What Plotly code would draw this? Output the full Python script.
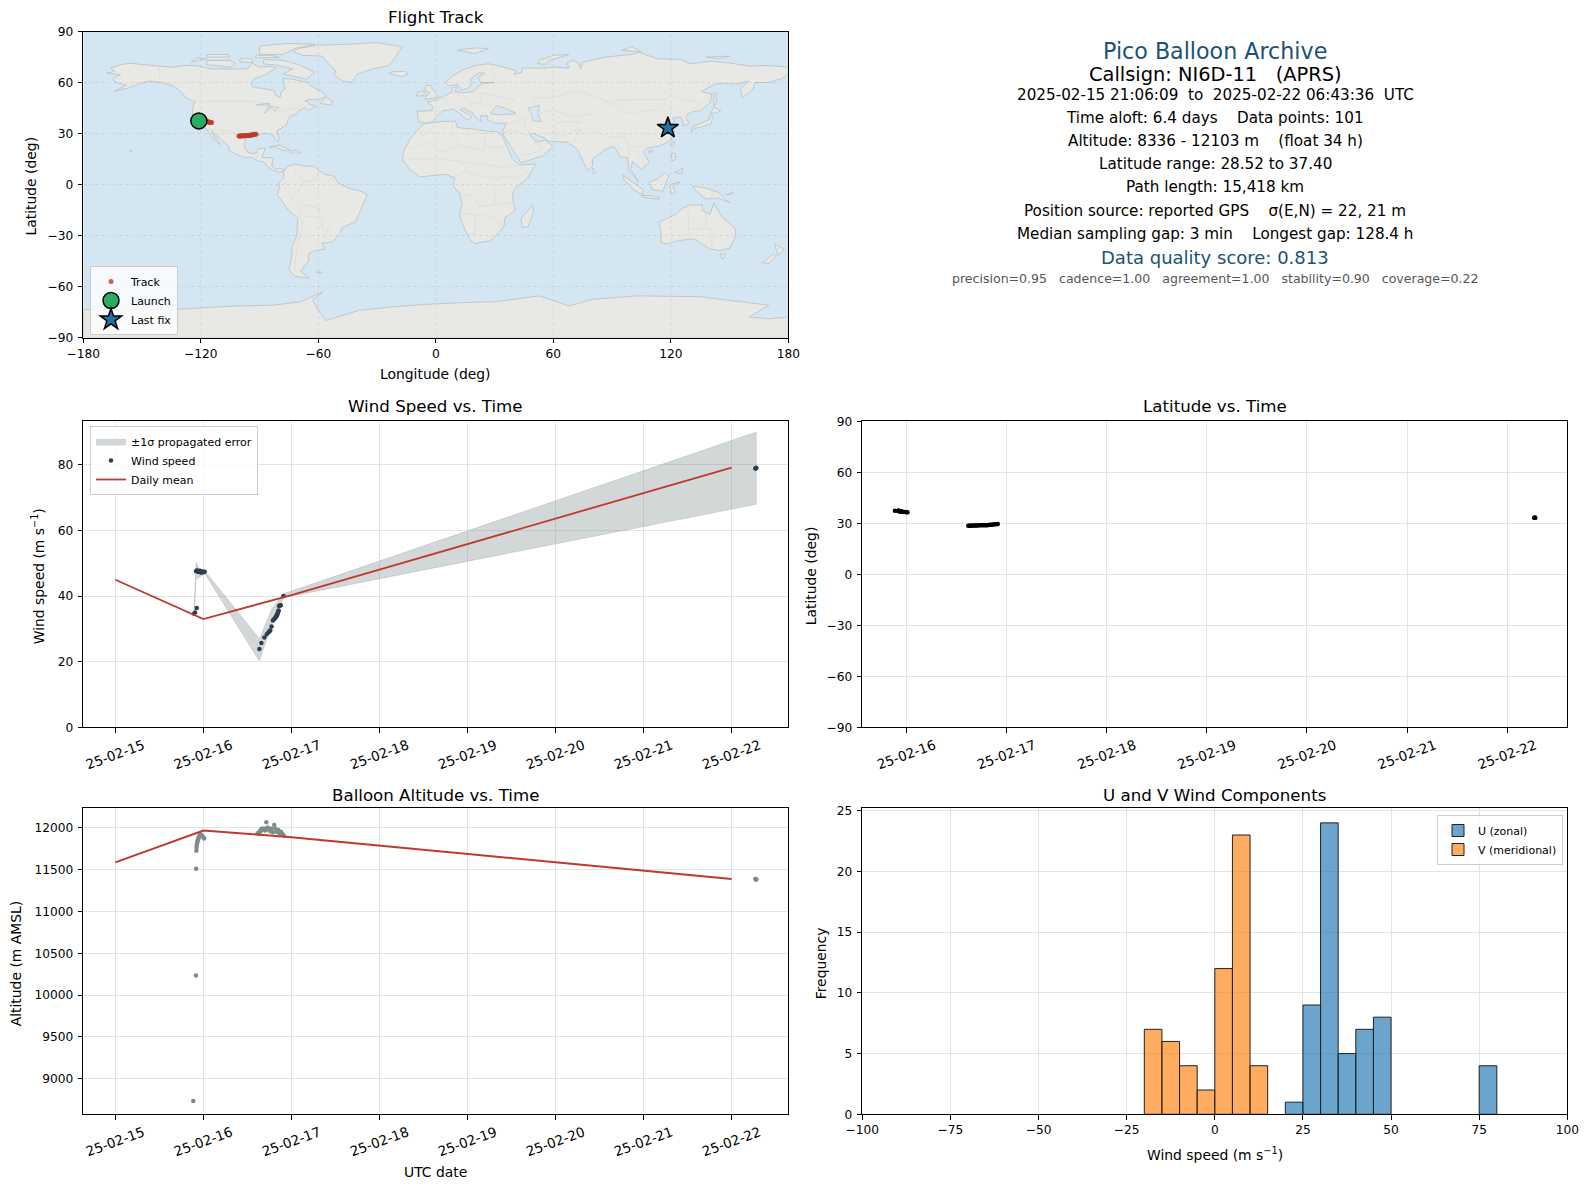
import pandas as pd
import plotly.graph_objects as go

# ---- values ----
start_day = pd.Timestamp("2025-02-15")

track_t = [.885, .915, .918, .92, .922, .925, .928, .932, .936, .94, .945, .95, .96, .975, .99, 1.0, 1.01,
           1.617, 1.63, 1.64, 1.65, 1.66, 1.675, 1.69, 1.70, 1.715, 1.73, 1.745, 1.76, 1.775, 1.79, 1.805, 1.82,
           1.835, 1.85, 1.865, 1.88, 1.895, 1.912, 7.27, 7.274, 7.278, 7.28]
track_alt = [8736, 10235, 11508, 11724, 11760, 11788, 11810, 11828, 11845, 11860, 11875, 11892, 11924, 11915, 11900,
             11880, 11870,
             11932, 11925, 11960, 11955, 11985, 11975, 11990, 11965, 12062, 12000, 11975, 11955, 11990, 11945, 12030,
             11985, 11950, 11970, 11930, 11950, 11925, 11905,
             11385, 11385, 11380, 11380]
track_lat = [37.4, 37.35, 37.3, 37.3, 37.25, 37.2, 37.2, 37.15, 37.1, 37.05, 37.0, 36.9, 36.8, 36.7, 36.6, 36.5, 36.45,
             28.52, 28.55, 28.6, 28.6, 28.65, 28.7, 28.7, 28.75, 28.75, 28.8, 28.8, 28.85, 28.85, 28.9, 28.9, 29.0,
             29.1, 29.2, 29.3, 29.4, 29.5, 29.6,
             33.3, 33.3, 33.3, 33.3]
track_lon = [-121, -120.6, -120.2, -119.8, -119.4, -119, -118.6, -118.2, -117.8, -117.4, -117, -116.6, -116.2, -115.8,
             -115.4, -115, -114.5,
             -100.5, -100.1, -99.7, -99.3, -98.9, -98.5, -98.1, -97.7, -97.3, -96.9, -96.5, -96.1, -95.7, -95.3,
             -94.9, -94.5, -94.1, -93.7, -93.3, -92.9, -92.4, -91.8,
             118.5, 118.5, 118.5, 118.5]
launch_lon, launch_lat = [-121], [37.4]
last_lon, last_lat = [118.5], [33.3]

wind_t = [.894, .905, .924, .917, .925, .93, .935, .94, .945, .95, .955, .96, .965, .97, .975, .98, .99, 1.0, 1.015,
          1.636, 1.659, 1.693, 1.72, 1.74, 1.75, 1.76, 1.775, 1.79, 1.80, 1.81, 1.82, 1.825, 1.83, 1.835, 1.84, 1.845,
          1.85, 1.855, 1.86, 1.87, 1.88, 1.909, 7.27, 7.274, 7.278, 7.28]
wind_speed = [34.6, 35.0, 36.4, 47.6, 47.8, 47.7, 47.6, 47.5, 47.5, 47.4, 47.6, 47.7, 47.4, 47.3, 47.2, 47.4, 47.5,
              47.3, 47.4,
              23.9, 25.7, 27.4, 28.4, 29.0, 29.2, 29.6, 30.7, 32.6, 32.9, 33.2, 33.5, 33.7, 33.9, 34.2, 34.5, 34.9,
              35.2, 35.6, 37.0, 37.1, 37.2, 40.0, 78.9, 79.0, 79.0, 79.1]
band_t = [.894, .917, .95, 1.015, 1.636, 1.78, 1.91, 7.28]
band_upper = [35.2, 50.3, 48.5, 47.7, 27.0, 36.2, 40.7, 90.0]
band_lower = [34.0, 45.1, 45.6, 46.9, 20.2, 31.8, 39.5, 68.0]

mean_t = [0, 1, 2, 7]
mean_wind = [45, 33, 40.3, 79.2]
mean_alt = [11585, 11965, 11885, 11385]

bin_centers_u = [22.5, 27.5, 32.5, 37.5, 42.5, 47.5, 77.5]
counts_u = [1, 9, 24, 5, 7, 8, 4]
bin_centers_v = [-17.5, -12.5, -7.5, -2.5, 2.5, 7.5, 12.5]
counts_v = [7, 6, 4, 2, 12, 23, 4]

info_lines = [
    ("Pico Balloon Archive", 22.2, "#1a5276", 50.5),
    ("Callsign: NI6D-11   (APRS)", 19.4, "#000000", 74),
    ("2025-02-15 21:06:09  to  2025-02-22 06:43:36  UTC", 15.2, "#000000", 95),
    ("Time aloft: 6.4 days    Data points: 101", 15.2, "#000000", 118),
    ("Altitude: 8336 - 12103 m    (float 34 h)", 15.2, "#000000", 141),
    ("Latitude range: 28.52 to 37.40", 15.2, "#000000", 164),
    ("Path length: 15,418 km", 15.2, "#000000", 187),
    ("Position source: reported GPS    σ(E,N) = 22, 21 m", 15.2, "#000000", 210.5),
    ("Median sampling gap: 3 min    Longest gap: 128.4 h", 15.2, "#000000", 234),
    ("Data quality score: 0.813", 18, "#1a5276", 258),
    ("precision=0.95   cadence=1.00   agreement=1.00   stability=0.90   coverage=0.22", 12.55, "#555555", 278),
]

# coarse coastlines, lon/lat
north_america = [(-168, 65.5), (-164, 66.5), (-166, 68.5), (-161, 70.5), (-156.5, 71.3), (-150, 70.5), (-141, 69.7),
                 (-135, 69), (-128, 70), (-122, 69.8), (-115, 68), (-108, 68), (-102, 68), (-96, 68), (-94, 71.5),
                 (-90, 69), (-85, 69.5), (-81.5, 68.5), (-85, 66), (-87, 64.5), (-93, 62), (-94.5, 59), (-92.5, 57),
                 (-88, 56.5), (-82.5, 55), (-82, 52.5), (-79.5, 51.3), (-79, 54.5), (-77, 56), (-77.5, 60), (-78, 62.5),
                 (-73, 62), (-70, 61), (-65, 60), (-64.5, 58.5), (-61.5, 56.5), (-58, 54.5), (-56, 52), (-59, 50.2),
                 (-65, 50), (-67, 49), (-65, 48.8), (-64.5, 47), (-61, 46), (-65, 43.5), (-67, 45), (-70, 43.5),
                 (-71, 41.5), (-74, 40.5), (-75.5, 38), (-76, 35.5), (-78, 33.8), (-81, 31.8), (-80, 27), (-80.5, 25.2),
                 (-81.8, 26), (-83, 29), (-85, 29.7), (-89, 30.2), (-90, 29), (-94, 29.5), (-97, 28), (-97.5, 25),
                 (-97.8, 22), (-96, 19), (-94.5, 18.2), (-91.5, 18.6), (-90.5, 21), (-87, 21.5), (-88, 18), (-88.8, 15.8),
                 (-84, 15.8), (-83.3, 14.5), (-83.7, 11), (-82, 9), (-79.5, 9.5), (-77.3, 8.5), (-78, 7.4), (-80, 7.3),
                 (-81.5, 7.7), (-83, 8.3), (-85.5, 10), (-87.5, 13), (-91, 14), (-94, 16), (-97, 15.8), (-101.5, 17.5),
                 (-105.5, 20), (-105.5, 22.5), (-109, 25.8), (-112.5, 29.5), (-114.7, 31.5), (-113, 28), (-110, 23.5),
                 (-112, 25), (-115, 28.5), (-117, 32.5), (-120.5, 34.5), (-122.5, 37.8), (-124.3, 40.5), (-124, 46),
                 (-123, 48.5), (-127.5, 51), (-130, 54.5), (-133.5, 57.5), (-139, 59.7), (-146, 60.8), (-151, 59.5),
                 (-153, 58.5), (-158, 56.5), (-164, 54.8), (-158, 58.5), (-162, 59.5), (-165, 61.5), (-164, 63.2),
                 (-161, 64.5), (-168, 65.5)]
greenland = [(-73, 78.2), (-68, 76), (-58, 75.5), (-54, 70), (-51, 67), (-52, 64.5), (-48, 61), (-43, 60), (-40, 65),
             (-32, 68), (-24, 70), (-21, 74), (-19, 78), (-17, 81), (-30, 83.5), (-45, 82.5), (-60, 82), (-70, 80),
             (-73, 78.2)]
baffin = [(-62, 66), (-66, 62), (-72, 63.5), (-78, 65), (-73, 68), (-80, 70), (-88, 71), (-88, 73.5), (-78, 73), (-70, 70.5),
          (-62, 66)]
victoria = [(-117, 70.5), (-105, 69), (-102, 71), (-105, 73), (-117, 73), (-117, 70.5)]
ellesmere = [(-90, 76.5), (-78, 76.5), (-72, 80), (-62, 82.5), (-75, 83), (-90, 81.5), (-90, 76.5)]
banks = [(-125, 72), (-117, 74), (-122, 74.5), (-125, 72)]
devon = [(-92, 74.5), (-80, 74.7), (-84, 76), (-92, 76), (-92, 74.5)]
somerset = [(-100, 72), (-93, 72), (-94, 74), (-100, 74), (-100, 72)]
melville = [(-117, 75), (-105, 75), (-106, 76.5), (-117, 76.5), (-117, 75)]
newfoundland = [(-59, 47.6), (-53, 46.7), (-53, 49), (-56, 51.5), (-59, 47.6)]
cuba = [(-85, 22), (-80, 23.2), (-74.3, 20.2), (-78, 19.9), (-82, 22.2), (-85, 22)]
hispaniola = [(-74.5, 18.5), (-68.5, 18.5), (-70, 19.9), (-73, 20), (-74.5, 18.5)]
hawaii = [(-156, 19), (-155, 19.7), (-156, 20.2), (-156, 19)]
south_america = [(-77.3, 8.5), (-75, 11), (-72, 12), (-68, 11), (-62, 10.5), (-57, 6), (-52, 5), (-50, 1), (-44, -2.5),
                 (-39, -3.5), (-35, -6), (-37, -11), (-39, -17), (-41, -22), (-48, -25.5), (-49, -29), (-53, -34),
                 (-58, -34.5), (-57, -38), (-62, -39), (-65, -41), (-65, -45), (-67, -48), (-69, -51), (-65, -55),
                 (-72, -54), (-75, -50), (-73.5, -42), (-73.5, -37), (-71, -30), (-70.5, -20), (-76, -14), (-81, -6),
                 (-80, -2), (-80, 1), (-77.5, 4), (-77.7, 7.5), (-77.3, 8.5)]
falklands = [(-61, -51.5), (-58, -51.5), (-59, -52.3), (-61, -51.5)]
africa = [(-6, 35.8), (3, 37), (10, 37.3), (11, 33.5), (20, 32.5), (25, 31.5), (32, 31), (34, 28), (37, 21), (39, 15),
          (43, 11.5), (51, 12), (47, 4), (40, -3), (39, -7), (40.5, -15), (35, -20), (35, -24), (32.5, -28), (28, -33),
          (20, -34.8), (18, -33), (15, -27), (12, -18), (13.5, -11), (12, -5), (9, -1), (9.5, 4), (5, 6), (-4, 5),
          (-8, 4.5), (-13, 8.5), (-17, 14.5), (-16.5, 19.5), (-13, 27), (-9.5, 32), (-6, 35.8)]
madagascar = [(49.5, -12), (50, -16), (47, -25), (44, -25), (43.5, -20), (47, -15), (49.5, -12)]
eurasia = [(-9, 37), (-9.5, 43), (-2, 43.5), (-1.5, 46), (-4.5, 48.5), (1, 50), (4, 52), (8, 54), (8.5, 57), (10.5, 57.5),
           (10, 54.5), (14, 54), (19, 54.5), (21, 57), (24, 59.5), (30, 60), (23, 60), (21.5, 63), (25, 65.5), (22, 65.7),
           (17.5, 62), (18.5, 60), (16.5, 56.5), (13, 55.5), (11, 59), (7, 58), (5, 60), (8, 63.5), (14, 67.5), (20, 70),
           (27, 71), (33, 69.5), (41, 67), (40, 64.7), (44, 66), (44, 68.5), (54, 68.5), (60, 69), (68, 68.5), (67, 71.5),
           (70, 73), (73, 71.5), (74, 68), (75, 72), (81, 73.5), (87, 75), (100, 76.5), (104, 77.7), (113, 74), (125, 73.5),
           (130, 71), (140, 72.5), (150, 71.5), (160, 69.7), (170, 70), (180, 69), (180, 65), (177, 62.5), (170, 60),
           (163, 60), (162, 56), (156.5, 51), (155.5, 56), (160, 61), (155, 59.3), (143, 59.3), (135.5, 54.7), (141, 53),
           (140, 48), (135, 43.5), (130, 42.5), (127.5, 39.8), (129.5, 36), (126.5, 34.5), (126, 37.5), (125, 39.7),
           (121, 39), (122, 37), (119, 35), (122, 31), (120, 26), (114, 22.5), (108, 21.5), (106, 19), (109, 13), (105, 9),
           (100.5, 13.5), (99.5, 9), (103.5, 1.5), (100.5, 6), (98.5, 8), (98, 16), (94.5, 16), (91, 22.5), (87, 21),
           (80, 15), (80, 11), (77.5, 8), (73, 19), (72, 21), (67, 25), (57, 25.5), (56, 27), (50, 30), (48, 29.5), (51, 25),
           (56, 26), (59.8, 22.5), (55, 17), (43.5, 12.7), (39, 21), (35, 28), (34, 31), (36, 36), (30, 36.2), (26.5, 38),
           (26.5, 40.3), (23, 40.5), (23, 37), (20, 40), (19, 42), (14, 45), (12.5, 44), (18.5, 40), (16, 38), (12, 42),
           (9, 44.3), (3.5, 43.3), (0, 39.5), (-2, 36.7), (-5.5, 36), (-9, 37)]
britain = [(-5.5, 50), (1.5, 51.3), (0, 54), (-2, 56), (-2, 58), (-5, 58.5), (-5.5, 55), (-3, 54), (-5, 52), (-5.5, 50)]
ireland = [(-10, 52), (-6, 52.2), (-6, 55), (-9, 54.5), (-10, 52)]
iceland = [(-24, 65.5), (-18, 63.4), (-14, 65), (-16, 66.5), (-22, 66.3), (-24, 65.5)]
svalbard = [(11, 79), (20, 80.3), (27, 80), (20, 77), (11, 79)]
novaya_zemlya = [(52, 71), (56, 70.7), (58, 73), (68, 76.5), (60, 76), (53, 73), (52, 71)]
severnaya = [(95, 79), (105, 78), (100, 81), (95, 79)]
new_siberian = [(138, 75), (145, 74), (150, 75.5), (138, 75)]
sakhalin = [(142, 46), (143.5, 49), (143, 54), (142, 53.5), (142, 48), (142, 46)]
honshu = [(130.5, 31), (132, 33), (136, 34), (140.5, 35.5), (141.5, 40), (140, 41), (139.5, 38), (136, 36.5), (131, 34),
          (130.5, 31)]
hokkaido = [(140, 42), (143, 42), (145.5, 43.5), (142, 45.5), (141, 43.5), (140, 42)]
taiwan = [(120, 23), (121, 22), (122, 25), (121, 25.2), (120, 23)]
hainan = [(109, 18.3), (111, 19.5), (109, 20), (109, 18.3)]
sri_lanka = [(80, 9.5), (82, 7.5), (80.5, 6), (79.8, 8), (80, 9.5)]
sumatra = [(95.5, 5.5), (100, 2), (106, -3), (105.5, -6), (101, -3), (96, 3), (95.5, 5.5)]
java = [(105, -6.5), (110, -6.5), (114.5, -7.7), (114, -8.7), (106, -7.5), (105, -6.5)]
borneo = [(109, 1.5), (113, 3), (117, 7), (119, 5), (117.5, 1), (116, -4), (110.5, -3), (109, 1.5)]
sulawesi = [(119.5, 0), (125, 1.5), (121, -1), (122.5, -5), (120, -5.5), (119.5, 0)]
luzon = [(120.5, 18.5), (122.5, 18), (122, 14.5), (120.5, 14), (120.5, 18.5)]
mindanao = [(122, 7), (126, 9.5), (126, 6.5), (122, 7)]
new_guinea = [(131, -1), (138, -2), (145, -5), (148, -9), (150, -10.5), (144, -8), (138, -8.5), (133, -4), (131, -1)]
new_britain = [(148, -6), (152, -4.5), (151, -6), (148, -6)]
australia = [(114, -22), (122, -18), (126, -14), (130, -12), (136, -12), (136, -15.5), (140, -17.5), (142, -11), (146, -19),
             (153, -26), (153, -31), (150, -37.5), (145, -38.8), (140, -38), (136, -35), (132, -32), (124, -33), (118, -35),
             (115, -34), (115, -29), (114, -22)]
tasmania = [(145, -41), (148, -41), (147, -43.5), (146, -43.5), (145, -41)]
nz_north = [(173, -35), (178, -38), (175, -41.5), (174, -39), (173, -35)]
nz_south = [(172, -41), (174, -42), (170, -46.5), (167, -46), (172, -41)]
antarctica = [(-180, -90), (-180, -73.5), (-140, -74), (-103.5, -71.5), (-83, -71), (-69, -69), (-57.5, -63), (-63, -68),
              (-60, -74), (-56, -80), (-39, -74), (-22, -72), (-5, -70.5), (12, -69.5), (30, -69), (53, -65.5), (68, -71.5),
              (80, -67.5), (103, -65.5), (135, -66), (170, -71), (160, -78), (170, -79), (180, -78), (180, -90), (-180, -90)]

land_shapes = [north_america, greenland, baffin, victoria, ellesmere, banks, devon, somerset, melville, newfoundland, cuba,
               hispaniola, hawaii, south_america, falklands, africa, madagascar, eurasia, britain, ireland, iceland,
               svalbard, novaya_zemlya, severnaya, new_siberian, sakhalin, honshu, hokkaido, taiwan, hainan, sri_lanka,
               sumatra, java, borneo, sulawesi, luzon, mindanao, new_guinea, new_britain, australia, tasmania, nz_north,
               nz_south, antarctica]

black_sea = [(28, 42), (31, 46.5), (35, 45), (41, 42), (36, 41.3), (31, 41), (28, 42)]
caspian = [(47, 45), (53, 46.5), (52, 42), (54, 37), (49.5, 37.5), (49, 41), (47, 45)]
superior = [(-92, 47), (-85, 47.8), (-84.8, 46.6), (-90, 46.6), (-92, 47)]
michigan_huron = [(-87.5, 42), (-85.5, 45.8), (-80, 45.5), (-82, 43), (-84, 45), (-86, 43), (-87.5, 42)]
water_shapes = [black_sea, caspian, superior, michigan_huron]

borders = [
    [(-123, 49), (-95, 49), (-88, 48), (-83, 46), (-82, 42.5), (-76, 44), (-71, 45), (-67, 47), (-67, 45)],
    [(-141, 69.7), (-141, 60.3), (-135, 59), (-130, 55)],
    [(-117, 32.5), (-106, 31.7), (-101, 29.5), (-97.5, 26)],
    [(-92, 14.5), (-91, 17.5), (-89, 18)],
    [(-72, 12), (-72, 7), (-67, 2), (-70, -4), (-74, -8), (-70, -11), (-69, -18), (-58, -20), (-58, -27), (-54, -26),
     (-57, -30), (-53, -34)],
    [(-60, 8), (-60, 5), (-64, 2), (-67, 2)], [(-78, -3), (-75, 0), (-78, 1)], [(-70, -18), (-68, -23), (-71, -38), (-72, -50)],
    [(-55, 2), (-52, 5)], [(-69, -11), (-60, -14), (-58, -20)],
    [(-9, 27), (-2, 33), (-1, 35)], [(-13, 21), (-5, 25), (4, 19), (12, 23), (25, 20), (25, 31.5)], [(8, 37), (9, 30), (12, 23)],
    [(25, 22), (37, 22)], [(-17, 15), (-5, 15), (4, 15), (14, 13), (24, 12), (34, 10), (43, 11.5)],
    [(9.5, 4), (15, 8), (14, 13)], [(15, 8), (24, 5), (31, 3.5), (35, 4.5), (41, 4), (47, 8)],
    [(12, -5), (20, -7), (22, -13), (30, -12), (34, -11), (40.5, -11)],
    [(30, -12), (30, -2), (31, 3.5)], [(12, -17), (24, -18), (33, -22), (32, -26)], [(20, -18), (20, -29), (17, -29)],
    [(-9, 42), (-7, 37)], [(-2, 43.5), (3, 42.5)], [(3, 51), (8, 48), (7, 44)], [(8, 54.5), (15, 51), (17, 48), (23, 48), (24, 54)],
    [(14, 45), (22, 48), (28, 45.5)], [(24, 54), (31, 52), (40, 50), (38, 47)], [(28, 60), (30, 65), (29, 70)], [(14, 65), (20, 69)],
    [(28, 41.5), (40, 41), (44, 39), (48, 39)], [(36, 36), (42, 37), (45, 39), (46, 33), (48, 30)], [(34, 30), (39, 32), (47, 29)],
    [(43, 17), (52, 19), (55, 22), (52, 24)],
    [(61, 36), (61, 30), (62, 25)], [(61, 36), (66, 37), (74, 37), (71, 32), (66, 29), (62, 28)],
    [(53, 42), (60, 44), (66, 41), (73, 40), (80, 42), (87, 49)],
    [(50, 46), (50, 51), (60, 51), (70, 55), (77, 54), (87, 49), (98, 50), (107, 50), (117, 50), (120, 53), (127, 50), (135, 48),
     (131, 43)],
    [(87, 49), (98, 42), (112, 44), (117, 47), (117, 50)],
    [(74, 37), (80, 32), (88, 28), (97, 28), (98, 24), (102, 22), (106, 23), (108, 21.5)],
    [(71, 32), (74, 32), (70, 25), (68, 24)], [(88, 26), (89, 22)], [(92, 25), (94, 21)], [(98, 24), (99, 16)], [(102, 22), (105, 15), (107, 11)],
    [(124.5, 40), (130, 42.5)], [(126, 38), (129, 38)],
    [(141, -3), (141, -9)], [(129, -15), (129, -31)], [(138, -17), (138, -26), (141, -26), (141, -38)], [(129, -26), (138, -26)],
]


def flat(shapes):
    xs, ys = [], []
    for shape in shapes:
        xs += [p[0] for p in shape] + [None]
        ys += [p[1] for p in shape] + [None]
    return xs, ys


def when(days):
    return start_day + pd.to_timedelta(days, unit="D")


# ---- panel boxes, in pixels of the 1590x1189 page ----
# the page body has an 8 px margin, so the figure is 8 px smaller and everything shifts by it
PAD = 8
W, H = 1590 - PAD, 1189 - PAD
COL1 = (83.3, 788.3)
COL2 = (862.3, 1567.3)
ROW1 = (31.5, 337.5)
ROW2 = (421.3, 727.3)
ROW3 = (808.3, 1114.3)


def px(x):
    return (x - PAD) / W


def py(y):
    return 1 - (y - PAD) / H


def xdom(col):
    return [px(col[0]), px(col[1])]


def ydom(row):
    return [py(row[1]), py(row[0])]


OCEAN = "#d4e6f1"
LAND = "#e8e8e4"
COAST = "#b9c0c4"
RED = "#c0392b"
FONT = "DejaVu Sans"

fig = go.Figure()

land_x, land_y = flat(land_shapes)
fig.add_trace(go.Scatter(x=land_x, y=land_y, mode="lines", fill="toself", fillcolor=LAND,
                         line=dict(color=COAST, width=0.8), showlegend=False, hoverinfo="skip"))
border_x, border_y = flat(borders)
fig.add_trace(go.Scatter(x=border_x, y=border_y, mode="lines", line=dict(color="#dbdbd7", width=0.7),
                         showlegend=False, hoverinfo="skip"))
water_x, water_y = flat(water_shapes)
fig.add_trace(go.Scatter(x=water_x, y=water_y, mode="lines", fill="toself", fillcolor=OCEAN,
                         line=dict(color=COAST, width=0.7), showlegend=False, hoverinfo="skip"))
fig.add_trace(go.Scatter(x=track_lon, y=track_lat, mode="markers", name="Track", legend="legend",
                         marker=dict(color=RED, size=5, opacity=0.8, line=dict(width=0))))
fig.add_trace(go.Scatter(x=launch_lon, y=launch_lat, mode="markers", name="Launch", legend="legend",
                         marker=dict(color="#27ae60", size=16, line=dict(color="black", width=1.5))))
fig.add_trace(go.Scatter(x=last_lon, y=last_lat, mode="markers", name="Last fix", legend="legend",
                         marker=dict(color="#2471a3", size=16, symbol="star", line=dict(color="black", width=1.5))))

band_time = when(band_t)
fig.add_trace(go.Scatter(x=list(band_time) + list(band_time[::-1]), y=band_upper + band_lower[::-1], mode="lines",
                         fill="toself", fillcolor="rgba(127,140,141,0.35)", line=dict(color="rgba(127,140,141,0.3)", width=0.8),
                         name="±1σ propagated error", xaxis="x2", yaxis="y2", legend="legend2"))
fig.add_trace(go.Scatter(x=when(wind_t), y=wind_speed, mode="markers", name="Wind speed", xaxis="x2", yaxis="y2",
                         legend="legend2", marker=dict(color="#2c3e50", size=4.5, line=dict(width=0))))
fig.add_trace(go.Scatter(x=when(mean_t), y=mean_wind, mode="lines", name="Daily mean", xaxis="x2", yaxis="y2",
                         legend="legend2", line=dict(color=RED, width=1.8)))

fig.add_trace(go.Scatter(x=when(track_t), y=track_lat, mode="markers", xaxis="x3", yaxis="y3", showlegend=False,
                         marker=dict(color="black", size=4.5, line=dict(width=0))))

fig.add_trace(go.Scatter(x=when(track_t), y=track_alt, mode="markers", xaxis="x4", yaxis="y4", showlegend=False,
                         marker=dict(color="#7f8c8d", size=4.5, line=dict(width=0))))
fig.add_trace(go.Scatter(x=when(mean_t), y=mean_alt, mode="lines", xaxis="x4", yaxis="y4", showlegend=False,
                         line=dict(color=RED, width=2)))

fig.add_trace(go.Bar(x=bin_centers_u, y=counts_u, width=5, name="U (zonal)", xaxis="x5", yaxis="y5", legend="legend3",
                     marker=dict(color="rgba(31,119,180,0.66)", line=dict(color="#222222", width=1))))
fig.add_trace(go.Bar(x=bin_centers_v, y=counts_v, width=5, name="V (meridional)", xaxis="x5", yaxis="y5", legend="legend3",
                     marker=dict(color="rgba(255,127,14,0.66)", line=dict(color="#222222", width=1))))

tick_font = dict(family=FONT, size=12.2, color="black")
frame = dict(showline=True, mirror=True, linecolor="black", linewidth=1.1, ticks="outside", ticklen=4.5, tickwidth=1.1,
             tickcolor="black", tickfont=tick_font, showgrid=True, gridcolor="#e4e4e4", gridwidth=1, zeroline=False,
             automargin=False)
y_frame = dict(frame, ticklabelstandoff=2)
date_axis = dict(frame, type="date", tickformat="%y-%m-%d", dtick=86400000, tick0="2025-02-15", tickangle=-20,
                 ticklabelshift=28, tickfont=dict(family=FONT, size=13.5, color="black"))
map_grid = dict(gridcolor="rgba(0,0,0,0)")


def span(lo, hi):
    return [str(when(lo)), str(when(hi))]


box = dict(xanchor="left", yanchor="top", bgcolor="rgba(255,255,255,0.8)", bordercolor="#cccccc", borderwidth=1,
           font=dict(family=FONT, size=11), itemsizing="trace")

fig.update_layout(
    width=W, height=H, margin=dict(l=0, r=0, t=0, b=0, autoexpand=False), paper_bgcolor="white", plot_bgcolor="white",
    font=dict(family=FONT, color="black"), barmode="overlay", hovermode=False,
    xaxis=dict(frame, domain=xdom(COL1), range=[-180, 180], dtick=60, tick0=-180, anchor="y", **map_grid),
    yaxis=dict(y_frame, domain=ydom(ROW1), range=[-90, 90], dtick=30, tick0=-90, anchor="x", **map_grid),
    xaxis2=dict(date_axis, domain=xdom(COL1), range=span(-0.364, 7.644), anchor="y2"),
    yaxis2=dict(y_frame, domain=ydom(ROW2), range=[0, 93.3], dtick=20, anchor="x2"),
    xaxis3=dict(date_axis, domain=xdom(COL2), range=span(0.559, 7.60), anchor="y3"),
    yaxis3=dict(y_frame, domain=ydom(ROW2), range=[-90, 90], dtick=30, tick0=-90, anchor="x3"),
    xaxis4=dict(date_axis, domain=xdom(COL1), range=span(-0.364, 7.644), anchor="y4"),
    yaxis4=dict(y_frame, domain=ydom(ROW3), range=[8577, 12230], dtick=500, tick0=9000, anchor="x4", tickformat="d"),
    xaxis5=dict(frame, domain=xdom(COL2), range=[-100, 100], dtick=25, tick0=-100, anchor="y5"),
    yaxis5=dict(y_frame, domain=ydom(ROW3), range=[0, 25.2], dtick=5, anchor="x5"),
    legend=dict(box, x=px(90), y=py(266)),
    legend2=dict(box, x=px(90), y=py(426)),
    legend3=dict(box, x=px(1563), y=py(815), xanchor="right"),
)

# ocean rectangle under the land, dashed graticule over it
shapes = [dict(type="rect", xref="x", yref="y", x0=-180, x1=180, y0=-90, y1=90, fillcolor=OCEAN, line_width=0, layer="below")]
for lon in [-120, -60, 0, 60, 120]:
    shapes.append(dict(type="line", xref="x", yref="y", x0=lon, x1=lon, y0=-90, y1=90, layer="above",
                       line=dict(color="rgba(120,120,120,0.22)", width=0.7, dash="dot")))
for lat in [-60, -30, 0, 30, 60]:
    shapes.append(dict(type="line", xref="x", yref="y", x0=-180, x1=180, y0=lat, y1=lat, layer="above",
                       line=dict(color="rgba(120,120,120,0.22)", width=0.7, dash="dot")))
fig.update_layout(shapes=shapes)

notes = []
for name, col, ypos in [("Flight Track", COL1, 28.5), ("Wind Speed vs. Time", COL1, 418.3), ("Latitude vs. Time", COL2, 418.3),
                        ("Balloon Altitude vs. Time", COL1, 807.3), ("U and V Wind Components", COL2, 807.3)]:
    notes.append(dict(text=name, xref="paper", yref="paper", x=px((col[0] + col[1]) / 2), y=py(ypos),
                      xanchor="center", yanchor="bottom", showarrow=False, font=dict(family=FONT, size=16.67, color="black")))
for text, size, colour, ypos in info_lines:
    notes.append(dict(text=text, xref="paper", yref="paper", x=px(1215), y=py(ypos), xanchor="center", yanchor="middle",
                      showarrow=False, font=dict(family=FONT, size=size, color=colour)))

# axis titles, placed by hand since the page margins are zero
axis_font = dict(family=FONT, size=13.9, color="black")
for text, xpos, ypos in [("Longitude (deg)", (COL1[0] + COL1[1]) / 2, 374), ("UTC date", (COL1[0] + COL1[1]) / 2, 1172),
                         ("Wind speed (m s<sup>−1</sup>)", (COL2[0] + COL2[1]) / 2, 1154)]:
    notes.append(dict(text=text, xref="paper", yref="paper", x=px(xpos), y=py(ypos), xanchor="center", yanchor="middle",
                      showarrow=False, font=axis_font))
for text, xpos, row in [("Latitude (deg)", 31, ROW1), ("Wind speed (m s<sup>−1</sup>)", 38, ROW2), ("Latitude (deg)", 811, ROW2),
                        ("Altitude (m AMSL)", 16, ROW3), ("Frequency", 821, ROW3)]:
    notes.append(dict(text=text, xref="paper", yref="paper", x=px(xpos), y=py((row[0] + row[1]) / 2 + 2), xanchor="center",
                      yanchor="middle", textangle=-90, showarrow=False, font=axis_font))
fig.update_layout(annotations=notes)

fig.write_html("out.html")
